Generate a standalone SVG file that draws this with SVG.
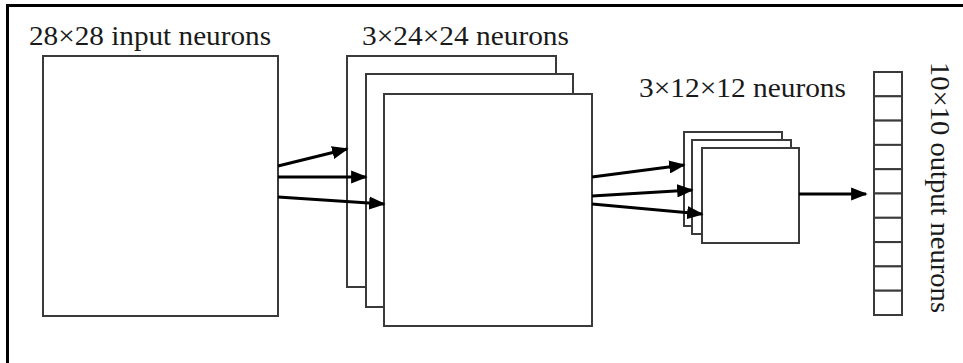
<svg xmlns="http://www.w3.org/2000/svg" width="963" height="363" viewBox="0 0 963 363">
<defs>
<marker id="ah" viewBox="0 0 10 8" refX="9" refY="4" markerWidth="5.5" markerHeight="4.4" orient="auto" markerUnits="strokeWidth">
<path d="M0,0 L10,4 L0,8 z" fill="#000"/>
</marker>
<style>
.box{fill:#fff;stroke:#3a3a3a;stroke-width:2}
.cell{fill:#fff;stroke:#3a3a3a;stroke-width:2}
.lbl{font-family:'Liberation Serif','Times New Roman',Times,serif;font-size:28px;fill:#1a1a1a}
.arr{stroke:#000;stroke-width:3;fill:none;marker-end:url(#ah)}
.frame{stroke:#000;stroke-width:3;fill:none}
</style>
</defs>
<rect width="963" height="363" fill="#fff"/>
<path class="frame" d="M7.5,363 V5.5 H963"/>
<g id="input">
<rect class="box" x="43" y="56" width="235" height="260"/>
<text class="lbl" font-family="Liberation Serif" x="29" y="45" textLength="242" lengthAdjust="spacingAndGlyphs">28×28 input neurons</text>
</g>
<g id="conv">
<rect class="box" x="347" y="56" width="209" height="231"/>
<rect class="box" x="366" y="74" width="207" height="233"/>
<rect class="box" x="384" y="94" width="208" height="232"/>
<text class="lbl" font-family="Liberation Serif" x="362" y="45" textLength="207" lengthAdjust="spacingAndGlyphs">3×24×24 neurons</text>
</g>
<g id="pool">
<rect class="box" x="684" y="132" width="98" height="94"/>
<rect class="box" x="692" y="140" width="99" height="94"/>
<rect class="box" x="702" y="148" width="97" height="95"/>
<text class="lbl" font-family="Liberation Serif" x="639" y="97" textLength="207" lengthAdjust="spacingAndGlyphs">3×12×12  neurons</text>
</g>
<g id="output">
<rect class="cell" x="874" y="72" width="28" height="24.3"/>
<rect class="cell" x="874" y="96.3" width="28" height="24.3"/>
<rect class="cell" x="874" y="120.6" width="28" height="24.3"/>
<rect class="cell" x="874" y="144.9" width="28" height="24.3"/>
<rect class="cell" x="874" y="169.2" width="28" height="24.3"/>
<rect class="cell" x="874" y="193.5" width="28" height="24.3"/>
<rect class="cell" x="874" y="217.8" width="28" height="24.3"/>
<rect class="cell" x="874" y="242.1" width="28" height="24.3"/>
<rect class="cell" x="874" y="266.4" width="28" height="24.3"/>
<rect class="cell" x="874" y="290.7" width="28" height="24.3"/>
<text class="lbl" font-family="Liberation Serif" transform="translate(931,62) rotate(90)" x="0" y="0" textLength="251" lengthAdjust="spacingAndGlyphs">10×10 output neurons</text>
</g>
<g id="connectors">
<line class="arr" x1="278" y1="166" x2="347" y2="149"/>
<line class="arr" x1="278" y1="177" x2="366" y2="177"/>
<line class="arr" x1="278" y1="197" x2="384" y2="204"/>
<line class="arr" x1="592" y1="177" x2="684" y2="165"/>
<line class="arr" x1="592" y1="196" x2="692" y2="190"/>
<line class="arr" x1="592" y1="204" x2="702" y2="214"/>
<line class="arr" x1="799" y1="194" x2="866" y2="194"/>
</g>
</svg>
